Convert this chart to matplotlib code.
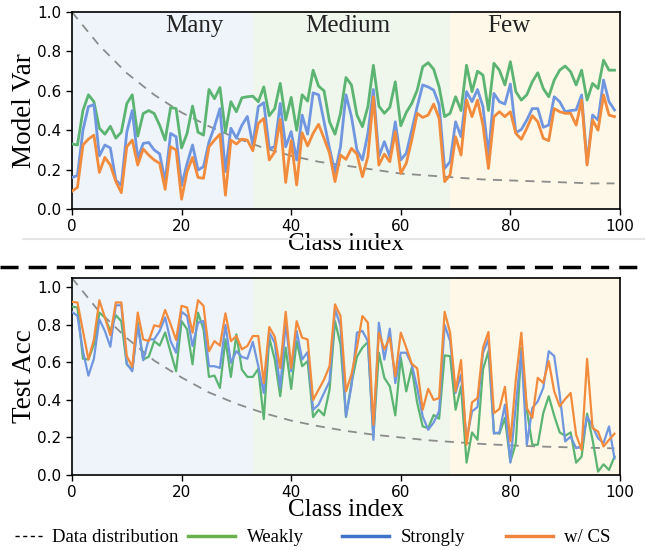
import numpy as np
import matplotlib
matplotlib.use("Agg")
import matplotlib.pyplot as plt
from matplotlib.lines import Line2D

# ---- data ----
dist_x = [0, 5, 10, 15, 20, 25, 30, 35, 40, 45, 50, 55, 60, 65, 70, 75, 80, 85, 90, 95, 99]
dist_var = [1.00, 0.83, 0.69, 0.58, 0.49, 0.42, 0.36, 0.31, 0.27, 0.24, 0.22, 0.20, 0.18,
            0.17, 0.16, 0.15, 0.145, 0.14, 0.135, 0.13, 0.13]
dist_acc = [1.05, 0.87, 0.73, 0.61, 0.52, 0.44, 0.38, 0.33, 0.29, 0.26, 0.235, 0.215, 0.20,
            0.185, 0.175, 0.165, 0.158, 0.152, 0.148, 0.145, 0.142]

var_weak = [0.33, 0.325, 0.50, 0.58, 0.545, 0.41, 0.38, 0.42, 0.36, 0.39, 0.535, 0.58, 0.37, 0.485, 0.50,
            0.485, 0.425, 0.35, 0.516, 0.51, 0.31, 0.384, 0.523, 0.39, 0.375, 0.607, 0.56, 0.617, 0.39, 0.545,
            0.494, 0.565, 0.57, 0.573, 0.545,
            0.62, 0.474, 0.51, 0.638, 0.452, 0.567, 0.40, 0.58, 0.548, 0.705, 0.624, 0.60, 0.443, 0.38, 0.486,
            0.668, 0.63, 0.477, 0.418, 0.52, 0.73, 0.523, 0.486, 0.516, 0.646, 0.423, 0.49, 0.536, 0.604, 0.722,
            0.743, 0.71, 0.62,
            0.469, 0.486, 0.57, 0.50, 0.73, 0.596, 0.70, 0.68, 0.50, 0.74, 0.705, 0.63, 0.748, 0.596, 0.553,
            0.58, 0.646, 0.692, 0.612, 0.57, 0.655, 0.705, 0.726, 0.697, 0.63, 0.705, 0.553, 0.638, 0.612, 0.756,
            0.705, 0.705]
var_strong = [0.16, 0.17, 0.40, 0.52, 0.53, 0.27, 0.325, 0.31, 0.147, 0.12, 0.39, 0.50, 0.257, 0.333, 0.338,
              0.30, 0.28, 0.14, 0.384, 0.367, 0.12, 0.23, 0.325, 0.198, 0.215, 0.34, 0.418, 0.51, 0.19, 0.41,
              0.36, 0.425, 0.47, 0.325, 0.52,
              0.54, 0.308, 0.316, 0.536, 0.316, 0.393, 0.249, 0.477, 0.38, 0.59, 0.58, 0.443, 0.308, 0.184, 0.316,
              0.58, 0.469, 0.30, 0.249, 0.384, 0.607, 0.266, 0.342, 0.266, 0.443, 0.249, 0.283, 0.40, 0.52, 0.63,
              0.62, 0.604, 0.53,
              0.206, 0.24, 0.443, 0.367, 0.596, 0.545, 0.607, 0.52, 0.274, 0.587, 0.545, 0.533, 0.635, 0.387, 0.404,
              0.452, 0.51, 0.51, 0.415, 0.426, 0.57, 0.545, 0.494, 0.50, 0.503, 0.579, 0.232, 0.477, 0.452, 0.655,
              0.545, 0.503]
var_cs = [0.09, 0.11, 0.325, 0.355, 0.375, 0.186, 0.262, 0.223, 0.14, 0.083, 0.316, 0.35, 0.223, 0.305, 0.274,
          0.249, 0.232, 0.10, 0.316, 0.30, 0.05, 0.19, 0.262, 0.16, 0.156, 0.316, 0.35, 0.38, 0.07, 0.35,
          0.33, 0.355, 0.35, 0.296, 0.435,
          0.46, 0.249, 0.29, 0.455, 0.135, 0.347, 0.122, 0.387, 0.32, 0.384, 0.43, 0.359, 0.283, 0.139, 0.274,
          0.252, 0.308, 0.279, 0.164, 0.266, 0.57, 0.223, 0.279, 0.24, 0.393, 0.181, 0.232, 0.35, 0.486, 0.465,
          0.477, 0.533, 0.46,
          0.139, 0.173, 0.367, 0.274, 0.553, 0.469, 0.553, 0.426, 0.206, 0.469, 0.494, 0.469, 0.494, 0.384, 0.354,
          0.41, 0.474, 0.443, 0.359, 0.347, 0.51, 0.494, 0.486, 0.486, 0.426, 0.553, 0.223, 0.452, 0.40, 0.579,
          0.477, 0.469]

acc_weak = [0.898, 0.893, 0.62, 0.616, 0.696, 0.866, 0.84, 0.768, 0.852, 0.82, 0.59, 0.562, 0.812, 0.616, 0.63,
            0.714, 0.69, 0.76, 0.655, 0.553, 0.82, 0.777, 0.59, 0.866, 0.777, 0.523, 0.53, 0.464, 0.723, 0.523,
            0.75, 0.562, 0.523, 0.523, 0.566,
            0.298, 0.732, 0.616, 0.42, 0.679, 0.459, 0.714, 0.58, 0.607, 0.309, 0.348, 0.318, 0.455, 0.82, 0.696,
            0.309, 0.49, 0.63, 0.679, 0.709, 0.205, 0.652, 0.518, 0.473, 0.318, 0.625, 0.446, 0.571, 0.384, 0.259,
            0.25, 0.32, 0.30,
            0.6375, 0.634, 0.348, 0.473, 0.066, 0.227, 0.1875, 0.5625, 0.66, 0.227, 0.22, 0.304, 0.071, 0.17, 0.679,
            0.348, 0.161, 0.161, 0.33, 0.42, 0.316, 0.227, 0.209, 0.227, 0.066, 0.098, 0.327, 0.1875, 0.018, 0.057,
            0.027, 0.098]
acc_strong = [0.87, 0.848, 0.66, 0.53, 0.62, 0.83, 0.768, 0.684, 0.905, 0.905, 0.593, 0.553, 0.80, 0.612, 0.723,
              0.723, 0.768, 0.84, 0.714, 0.652, 0.87, 0.848, 0.688, 0.812, 0.821, 0.58, 0.58, 0.571, 0.80, 0.598,
              0.66, 0.63, 0.62, 0.71, 0.58,
              0.4375, 0.759, 0.705, 0.464, 0.812, 0.553, 0.768, 0.616, 0.655, 0.348, 0.375, 0.4375, 0.50, 0.884, 0.795,
              0.3125, 0.473, 0.759, 0.768, 0.714, 0.1875, 0.812, 0.616, 0.78, 0.49, 0.652, 0.652, 0.589, 0.464, 0.3125,
              0.241, 0.28, 0.34,
              0.80, 0.714, 0.4375, 0.536, 0.1875, 0.339, 0.3625, 0.652, 0.723, 0.22, 0.227, 0.375, 0.066, 0.375, 0.66,
              0.161, 0.357, 0.393, 0.464, 0.66, 0.634, 0.429, 0.179, 0.205, 0.143, 0.152, 0.3125, 0.259, 0.196, 0.17,
              0.259, 0.089]
acc_cs = [0.923, 0.92, 0.768, 0.616, 0.723, 0.932, 0.84, 0.745, 0.92, 0.92, 0.634, 0.577, 0.866, 0.723, 0.714,
          0.798, 0.791, 0.88, 0.804, 0.72, 0.902, 0.893, 0.759, 0.932, 0.902, 0.66, 0.714, 0.69, 0.862, 0.714,
          0.741, 0.67, 0.688, 0.741, 0.741,
          0.49, 0.789, 0.7375, 0.571, 0.87, 0.571, 0.82, 0.732, 0.723, 0.40, 0.455, 0.509, 0.58, 0.91, 0.848,
          0.446, 0.536, 0.679, 0.848, 0.812, 0.268, 0.759, 0.67, 0.732, 0.527, 0.759, 0.679, 0.593, 0.568, 0.348,
          0.459, 0.40, 0.41,
          0.87, 0.759, 0.446, 0.6125, 0.161, 0.3875, 0.41, 0.679, 0.7625, 0.33, 0.352, 0.47, 0.179, 0.509, 0.759,
          0.357, 0.304, 0.518, 0.491, 0.607, 0.446, 0.366, 0.405, 0.4375, 0.214, 0.134, 0.62, 0.25, 0.232, 0.152,
          0.1875, 0.22]

regions = [("Many", 0, 33, 22.4, "#eef4fa"), ("Medium", 33, 69, 50.4, "#eff6ec"), ("Few", 69, 100, 79.7, "#fdf8e8")]
legend_labels = ["Data distribution", "Weakly", "Strongly", "w/ CS"]

c_weak, c_strong, c_cs = "#5bb471", "#7196e0", "#f28b3c"
serif = "Liberation Serif"

fig = plt.figure(figsize=(6.45, 5.5), dpi=100)
ax1 = fig.add_axes([0.1116, 0.620, 0.8496, 0.358])
ax2 = fig.add_axes([0.1116, 0.1364, 0.8496, 0.358])


def draw_panel(ax, dist, weak, strong, cs, ymax, lw, show_names):
    for name, a, b, cx, col in regions:
        ax.axvspan(a, b, color=col, zorder=0, lw=0)
        if show_names:
            ax.text(cx, 0.985, name, ha="center", va="top", fontsize=18, family=serif, color="#222222")
    ax.plot(dist_x, dist, color="#8c8c8c", lw=1.3, ls=(0, (5, 4)), zorder=2)
    ax.plot(np.arange(len(weak)), weak, color=c_weak, lw=lw, zorder=3)
    ax.plot(np.arange(len(strong)), strong, color=c_strong, lw=lw, zorder=4)
    ax.plot(np.arange(len(cs)), cs, color=c_cs, lw=lw, zorder=5)
    ax.set_xlim(0, 100)
    ax.set_ylim(0, ymax)
    ax.set_xticks([0, 20, 40, 60, 80, 100])
    ax.set_yticks([0.0, 0.2, 0.4, 0.6, 0.8, 1.0])
    ax.set_yticklabels(["0.0", "0.2", "0.4", "0.6", "0.8", "1.0"])
    ax.tick_params(labelsize=11, length=4, width=1.0)
    for s in ax.spines.values():
        s.set_linewidth(1.2)
    ax.set_xlabel("Class index", family=serif, fontsize=18, labelpad=-1)


draw_panel(ax1, dist_var, var_weak, var_strong, var_cs, 1.0, 2.0, True)
draw_panel(ax2, dist_acc, acc_weak, acc_strong, acc_cs, 1.05, 1.6, False)
ax1.set_ylabel("Model Var", family=serif, fontsize=19.5, labelpad=0)
ax2.set_ylabel("Test Acc", family=serif, fontsize=19.5, labelpad=0)

# separator lines between the two panels
fig.add_artist(Line2D([0.035, 1.0], [0.5655, 0.5655], transform=fig.transFigure, color="#e6e6e6", lw=1.5))
fig.add_artist(Line2D([0.0, 1.0], [0.5145, 0.5145], transform=fig.transFigure, color="black", lw=2.5,
                      dashes=(5.2, 2.9)))

# legend drawn by hand so the uneven column layout of the original is kept
leg_y = 0.026
leg_items = [
    (0.0233, 0.0667, 0.0806, dict(color="black", lw=1.0, ls=(0, (3, 2.5)))),
    (0.2915, 0.3643, 0.3830, dict(color="#6ab04c", lw=2.5)),
    (0.5300, 0.6030, 0.6217, dict(color="#3f72c8", lw=2.5)),
    (0.7845, 0.8574, 0.8744, dict(color="#ef8440", lw=2.5)),
]
for (x0, x1, xt, style), lab in zip(leg_items, legend_labels):
    fig.add_artist(Line2D([x0, x1], [leg_y, leg_y], transform=fig.transFigure, **style))
    fig.text(xt, leg_y - 0.003, lab, ha="left", va="center", family=serif, fontsize=13.5)

fig.savefig("out.png", dpi=100)
